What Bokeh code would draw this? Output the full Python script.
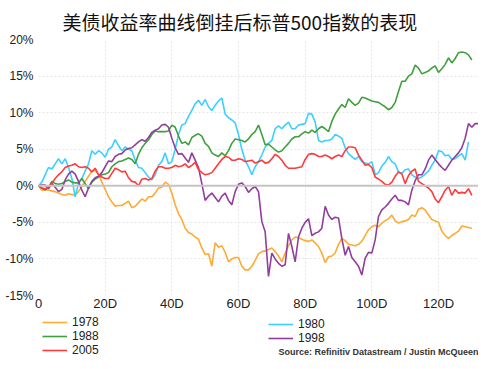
from bokeh.plotting import figure
from bokeh.layouts import column
from bokeh.models import (Legend, LegendItem, Span, Label, FixedTicker, Range1d,
                          PrintfTickFormatter)
from bokeh.embed import file_html
from bokeh.resources import INLINE

title_text = "美债收益率曲线倒挂后标普500指数的表现"
source_text = "Source: Refinitiv Datastream / Justin McQueen"

x_ticks = [0, 20, 40, 60, 80, 100, 120]
x_tick_labels = ["0", "20D", "40D", "60D", "80D", "100D", "120D"]
y_ticks = [-15, -10, -5, 0, 5, 10, 15, 20]

# cumulative S&P 500 return (%) by trading day after inversion
ret_1978 = [0, -0.6, -0.5, -0.6, -0.7, -0.8, -1.0, -1.2, -1.3, -1.1, -1.2, -1.3, -0.8, -0.1, 0.6,
            1.3, 2.0, 2.1, 1.6, 0.5, -0.5, -1.5, -2.2, -2.8, -2.7, -2.7, -2.4, -2.1, -3.0, -2.8,
            -2.3, -1.8, -2.1, -1.5, -1.5, -1.0, -0.3, -0.2, 0.5, 0.2, -1.0, -2.6, -3.8, -4.6, -5.8,
            -6.4, -6.6, -7.0, -7.3, -8.5, -9.4, -9.3, -11.0, -7.8, -8.4, -8.2, -9.1, -10.4, -10.0, -9.8,
            -9.8, -11.0, -11.5, -11.5, -11.0, -10.2, -9.3, -9.0, -8.9, -8.7, -8.5, -9.0, -9.6, -10.4, -9.2,
            -8.2, -7.4, -7.0, -7.1, -7.3, -7.5, -7.6, -7.4, -7.8, -8.3, -9.2, -10.5, -9.7, -9.6, -9.2,
            -8.0, -7.2, -7.5, -8.0, -8.1, -8.2, -8.0, -7.6, -6.8, -6.0, -5.6, -5.4, -5.6, -5.1, -4.8,
            -4.5, -4.0, -4.8, -5.1, -4.9, -4.8, -4.6, -4.0, -4.2, -3.2, -3.0, -3.3, -4.0, -4.6, -4.8,
            -5.0, -6.2, -6.8, -7.2, -6.8, -6.5, -6.2, -5.5, -5.6, -5.7, -5.8]

ret_1980 = [0, 0.5, 1.5, 2.5, 2.3, 3.0, 3.7, 3.0, 3.7, 2.5, 1.0, -1.5, 0.3, 1.0, 2.0,
            3.0, 4.8, 4.3, 4.8, 4.5, 3.9, 5.0, 5.3, 6.3, 5.5, 4.8, 5.3, 5.0, 4.8, 3.5,
            2.5, 2.4, 1.8, 1.2, 0.8, 1.5, 2.8, 3.3, 4.5, 3.0, 3.3, 5.0, 7.0, 8.3, 8.5,
            9.5, 10.3, 11.2, 11.7, 11.0, 11.8, 10.8, 10.3, 11.0, 11.6, 12.0, 9.8, 9.3, 9.0, 8.6,
            7.0, 5.0, 3.5, 2.6, 1.5, 2.6, 3.3, 4.2, 5.3, 5.8, 6.2, 7.8, 8.2, 7.8, 8.3,
            8.7, 7.8, 7.8, 8.3, 8.4, 8.5, 9.9, 9.8, 8.7, 6.2, 6.0, 6.2, 6.2, 6.4, 7.0,
            6.8, 6.5, 5.2, 4.4, 4.0, 3.6, 4.0, 3.3, 3.1, 3.0, 3.3, 1.5, 1.8, 2.7, 3.2,
            4.0, 3.3, 3.0, 1.9, 1.7, 2.2, 2.3, 1.5, 1.2, 1.0, 1.2, 1.6, 2.0, 2.8, 3.5,
            4.8, 4.7, 4.1, 4.2, 3.6, 3.7, 4.1, 4.4, 3.5, 6.0]

ret_1988 = [0, -0.3, -0.6, -0.2, 0.6, 0.3, 0.2, 0.3, 0.6, 0.8, 0.5, 0.4, 0.4, 1.0, 0.3,
            -0.4, 0.5, 0.9, 1.2, 1.5, 1.6, 1.8, 2.6, 3.0, 3.3, 3.4, 3.6, 3.8, 3.6, 3.0,
            4.3, 5.2, 5.8, 6.3, 7.0, 7.5, 7.4, 7.4, 7.4, 7.5, 8.3, 8.0, 6.8, 5.8, 6.0,
            5.6, 6.6, 6.9, 7.1, 6.8, 5.8, 5.4, 4.5, 4.2, 4.0, 4.5, 4.1, 4.8, 5.8, 6.4,
            6.3, 6.2, 6.0, 6.4, 7.0, 7.4, 8.3, 7.0, 5.6, 5.7, 5.3, 4.9, 4.6, 4.8, 5.3,
            5.8, 6.4, 6.7, 6.7, 7.1, 7.4, 7.2, 7.6, 7.3, 7.8, 8.1, 7.8, 7.4, 8.8, 9.8,
            10.5, 11.1, 10.7, 11.9, 11.4, 11.0, 11.3, 12.1, 12.0, 11.8, 11.6, 11.5, 11.4, 11.1, 10.8,
            10.4, 10.7, 11.4, 12.9, 14.3, 14.3, 15.0, 15.3, 16.5, 16.1, 15.3, 15.5, 15.7, 16.1, 16.4,
            15.5, 16.0, 16.6, 17.5, 16.8, 17.4, 18.2, 18.3, 18.2, 17.9, 17.2]

ret_1998 = [0, 0.1, 0.1, -0.4, 0.3, -0.2, -0.8, -0.5, 0.8, 1.6, 2.0, 1.6, 0.6, -0.6, -1.5,
            -0.3, 0.6, 1.1, 1.3, 1.8, 2.6, 3.4, 3.3, 4.0, 4.3, 4.4, 4.9, 5.1, 5.2, 5.6,
            6.0, 6.3, 6.1, 6.6, 7.3, 7.6, 7.8, 8.3, 8.4, 8.0, 6.5, 5.2, 4.3, 4.4, 3.8,
            3.2, 4.5, 3.5, 2.5, 0.3, -2.0, -1.4, -1.0, -1.6, -2.2, -1.4, -1.0, -2.0, -2.6, -0.8,
            0.2, 0.4, -0.1, -0.9, -0.4, -0.1, -0.8, -4.9, -6.3, -12.4, -9.2, -10.0, -10.6, -11.0, -10.8,
            -6.5, -8.3, -10.4, -7.0, -5.8, -5.0, -4.5, -6.8, -6.5, -6.3, -5.8, -2.8, -4.0, -4.6, -4.3,
            -4.4, -7.2, -9.5, -8.3, -9.8, -10.4, -11.0, -12.2, -9.9, -9.1, -9.2, -7.4, -4.2, -3.3, -2.9,
            -2.4, -1.8, -1.3, -2.0, -2.0, -2.2, -2.6, -0.6, 0.7, 1.5, 1.5, 2.3, 3.5, 4.2, 3.6,
            3.0, 2.5, 2.1, 2.8, 3.5, 4.0, 4.5, 5.2, 6.5, 8.5, 8.0, 8.5, 8.5]

ret_2005 = [0, -0.3, -0.4, -0.2, 0.3, 1.0, 1.5, 1.9, 2.5, 2.7, 2.8, 3.0, 2.6, 2.5, 2.6,
            2.4, 1.9, 2.4, 1.5, 1.2, 1.0, 1.0, 1.7, 2.4, 2.2, 1.9, 2.0, 1.1, 0.6, 0.5,
            0.0, 0.9, 1.0, 0.8, 1.0, 2.0, 2.6, 2.6, 2.4, 2.4, 2.5, 2.8, 2.6, 2.7, 3.0,
            2.5, 2.8, 3.2, 2.2, 1.8, 1.5, 1.6, 1.8, 2.4, 3.0, 3.6, 4.0, 3.9, 3.5, 3.5,
            3.7, 3.6, 3.3, 3.4, 3.5, 3.1, 3.3, 3.5, 3.1, 3.2, 3.7, 4.3, 4.0, 3.5, 2.8,
            2.4, 2.4, 2.4, 2.5, 2.6, 3.6, 4.3, 4.4, 4.3, 4.0, 4.0, 4.2, 4.0, 3.7, 4.0,
            4.2, 4.0, 4.8, 5.3, 5.3, 5.2, 4.2, 3.5, 2.8, 2.9, 2.5, 1.2, 0.9, 0.6, 0.2,
            0.1, 0.5, 1.3, 1.9, 1.6, 0.3, 1.4, 2.0, 2.3, 0.6, 0.3, 0.0, -0.3, -0.8, -1.8,
            -2.3, -1.5, -0.6, -0.1, -1.3, -0.5, -1.0, -0.9, -1.0, -0.4, -1.3]

series = [
    ("1978", ret_1978, "#ffaa33"),
    ("1980", ret_1980, "#3dcfff"),
    ("1988", ret_1988, "#40a040"),
    ("1998", ret_1998, "#923d9e"),
    ("2005", ret_2005, "#ff3a3a"),
]
legend_col1 = ["1978", "1988", "2005"]
legend_col2 = ["1980", "1998"]

FW = 440
BL, BR = 38, 0
p = figure(frame_width=FW, frame_height=256, output_backend="svg", toolbar_location=None,
           x_range=Range1d(0, 132), y_range=Range1d(-15, 20),
           min_border_left=BL, min_border_right=BR, min_border_top=0, min_border_bottom=0)
p.outline_line_color = None
p.background_fill_color = "white"
p.border_fill_color = "white"

p.title.text = title_text
p.title.text_font = "Noto Sans CJK SC"
p.title.text_font_size = "19px"
p.title.text_font_style = "normal"
p.title.text_color = "#111111"
p.title.offset = 24
p.title.standoff = 10

for ax in (p.xaxis[0], p.yaxis[0]):
    ax.axis_line_color = None
    ax.major_tick_line_color = None
    ax.minor_tick_line_color = None
    ax.major_tick_out = 0
    ax.major_tick_in = 0
    ax.major_label_text_font = "Liberation Sans"
    ax.major_label_text_color = "#222222"

p.xaxis[0].ticker = FixedTicker(ticks=x_ticks)
p.xaxis[0].major_label_overrides = {t: l for t, l in zip(x_ticks, x_tick_labels)}
p.xaxis[0].major_label_text_font_size = "13px"
p.xaxis[0].major_label_standoff = 0
p.yaxis[0].ticker = FixedTicker(ticks=y_ticks)
p.yaxis[0].formatter = PrintfTickFormatter(format="%d%%")
p.yaxis[0].major_label_text_font_size = "12px"
p.yaxis[0].major_label_standoff = 5

p.xgrid.grid_line_color = "#e6e6e6"
p.ygrid.grid_line_color = "#e6e6e6"
p.xgrid.grid_line_dash = "2 2"
p.ygrid.grid_line_dash = "2 2"

p.add_layout(Span(location=0, dimension="width", line_color="#c4c4c4", line_width=2))

for name, vals, col in series:
    p.line(list(range(len(vals))), vals, line_color=col, line_width=1.6)

# legend strip below the chart, same horizontal frame as the chart
H2 = 44
p2 = figure(frame_width=FW, frame_height=H2, output_backend="svg", toolbar_location=None,
            x_range=Range1d(0, FW), y_range=Range1d(0, H2),
            x_axis_location=None, y_axis_location=None,
            min_border_left=BL, min_border_right=BR, min_border_top=0, min_border_bottom=0)
p2.outline_line_color = None
p2.xgrid.visible = False
p2.ygrid.visible = False
p2.background_fill_color = "white"
p2.border_fill_color = "white"

nan = float("nan")
items = {}
for name, vals, col in series:
    r = p2.line(x=[nan], y=[nan], line_color=col, line_width=1.6)
    items[name] = LegendItem(label=name, renderers=[r])


def make_legend(names, loc):
    return Legend(items=[items[n] for n in names], orientation="vertical",
                  location=loc, label_text_font="Liberation Sans",
                  label_text_font_size="12px", label_text_color="#222222",
                  label_height=12, glyph_height=12, glyph_width=25,
                  label_standoff=5, spacing=-2, padding=2, margin=0,
                  border_line_color=None, background_fill_alpha=0)


p2.add_layout(make_legend(legend_col1, (4, 0)))
p2.add_layout(make_legend(legend_col2, (230, 12)))

p2.add_layout(Label(x=FW, y=6, text=source_text,
                    text_align="right", text_baseline="middle", text_font="Liberation Sans",
                    text_font_size="9px", text_font_style="bold", text_color="#333333"))

open("out.html", "w").write(file_html(column(p, p2, spacing=0), INLINE))
